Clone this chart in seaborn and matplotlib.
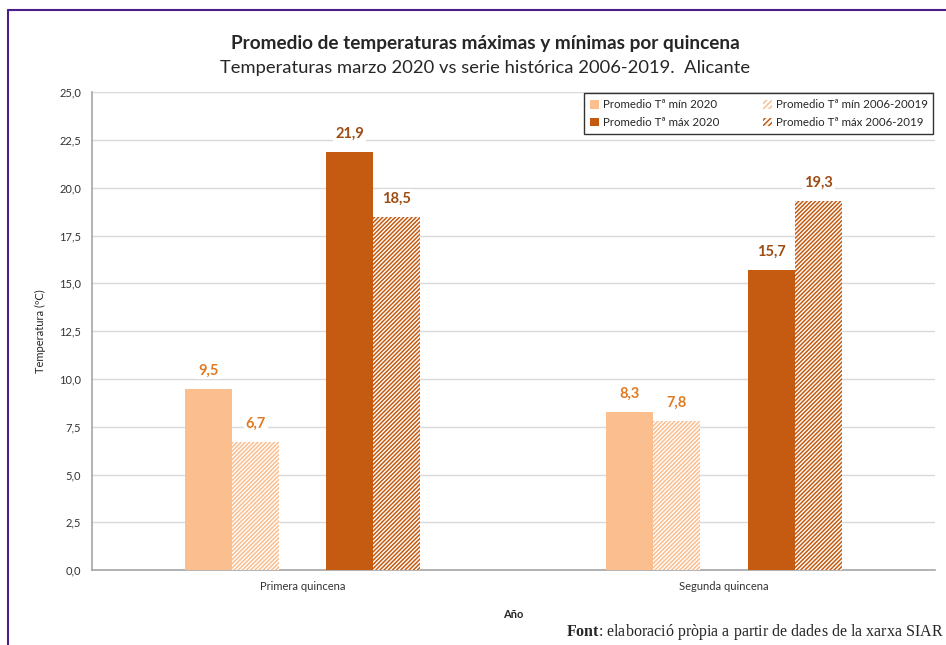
import numpy as np
import pandas as pd
import seaborn as sns
import matplotlib.pyplot as plt
from matplotlib.patches import Patch
from matplotlib.lines import Line2D

# datos
quincenas = ["Primera quincena", "Segunda quincena"]
series = ["Promedio Tª mín 2020", "Promedio Tª mín 2006-20019",
          "Promedio Tª máx 2020", "Promedio Tª máx 2006-2019"]
min_2020 = [9.5, 8.3]
min_hist = [6.7, 7.8]
max_2020 = [21.9, 15.7]
max_hist = [18.5, 19.3]

claro = "#FBBE8E"
oscuro = "#C55A11"
col_lab_claro = "#E07A22"
col_lab_oscuro = "#9E4B12"

rows = []
for s, vals in zip(series, [min_2020, min_hist, max_2020, max_hist]):
    for q, v in zip(quincenas, vals):
        rows.append({"quincena": q, "serie": s, "valor": v})
df = pd.DataFrame(rows)

sns.set_style("white")
plt.rcParams["font.family"] = ["Lato", "DejaVu Sans"]
plt.rcParams["hatch.linewidth"] = 1.1
plt.rcParams["mathtext.fontset"] = "custom"
plt.rcParams["mathtext.bf"] = "Liberation Serif:bold"
plt.rcParams["mathtext.rm"] = "Liberation Serif"

fig = plt.figure(figsize=(9.46, 6.45), dpi=100)
ax = fig.add_axes([0.0973, 0.116, 0.8907, 0.741])

# hueco vacío entre mínimas y máximas
orden = [series[0], series[1], " ", series[2], series[3]]
paleta = {series[0]: claro, series[1]: claro, " ": "white",
          series[2]: oscuro, series[3]: oscuro}
sns.barplot(data=df, x="quincena", y="valor", hue="serie", hue_order=orden,
            palette=paleta, width=0.558, gap=0, legend=False, ax=ax,
            saturation=1, zorder=3)

conts = [c for c in ax.containers
         if len(c.datavalues) > 0 and not np.all(np.isnan(c.datavalues))]
cols_lab = [col_lab_claro, col_lab_claro, col_lab_oscuro, col_lab_oscuro]
for i, cont in enumerate(conts):
    color = claro if i < 2 else oscuro
    for bar in cont:
        bar.set_linewidth(0)
        if i in (1, 3):
            bar.set_facecolor("white")
            bar.set_edgecolor(color)
            bar.set_hatch("////////")
    labs = [f"{v:.1f}".replace(".", ",") for v in cont.datavalues]
    ax.bar_label(cont, labels=labs, padding=8, fontsize=10.5, fontweight="bold",
                 color=cols_lab[i],
                 bbox=dict(facecolor="white", edgecolor="none", pad=1.5),
                 zorder=5)

ax.set_ylim(0, 25)
ax.set_xlim(-0.5, 1.5)
ax.set_yticks([i * 2.5 for i in range(11)])
ax.set_yticklabels([f"{i * 2.5:.1f}".replace(".", ",") for i in range(11)],
                   fontsize=8, color="#333333")
ax.set_xticks([0, 1])
ax.set_xticklabels(quincenas, fontsize=8, color="#333333")
ax.set_xticks([-0.5, 0.5, 1.5], minor=True)
ax.tick_params(axis="x", which="major", length=0, pad=8)
ax.tick_params(axis="x", which="minor", length=5, color="#A6A6A6", direction="out")
ax.tick_params(axis="y", length=5, color="#A6A6A6", direction="out", pad=3)
ax.yaxis.grid(True, color="#D9D9D9", linewidth=1, zorder=0)
ax.set_axisbelow(True)
for lado in ["top", "right"]:
    ax.spines[lado].set_visible(False)
for lado in ["left", "bottom"]:
    ax.spines[lado].set_color("#A6A6A6")
    ax.spines[lado].set_linewidth(1.2)

ax.set_xlabel("Año", fontsize=8, fontweight="bold", labelpad=12)
ax.set_ylabel("Temperatura (ºC)", fontsize=8, labelpad=9)

handles = [
    Patch(facecolor=claro, edgecolor="none"),
    Patch(facecolor=oscuro, edgecolor="none"),
    Patch(facecolor="white", edgecolor=claro, hatch="//////", linewidth=0),
    Patch(facecolor="white", edgecolor=oscuro, hatch="//////", linewidth=0),
]
leg_labels = [series[0], series[2], series[1], series[3]]
leg = ax.legend(handles, leg_labels, ncol=2, loc="upper right",
                bbox_to_anchor=(1.0, 1.0), borderaxespad=0.1, fontsize=8.3,
                handlelength=0.8, handleheight=0.8, handletextpad=0.3,
                columnspacing=3.8, frameon=True, fancybox=False,
                borderpad=0.5, labelspacing=0.6)
leg.get_frame().set_edgecolor("black")
leg.get_frame().set_linewidth(1)

fig.text(0.513, 0.933, "Promedio de temperaturas máximas y mínimas por quincena",
         ha="center", va="center", fontsize=13.7, fontweight="bold")
fig.text(0.513, 0.894, "Temperaturas marzo 2020 vs serie histórica 2006-2019.  Alicante",
         ha="center", va="center", fontsize=13.2)

fig.text(0.998, 0.004, r"$\mathbf{Font}$: elaboració pròpia a partir de dades de la xarxa SIAR",
         ha="right", va="bottom", fontsize=11.5, family=["Liberation Serif"])

# marco morado
fig.add_artist(Line2D([8 / 946, 1.0], [1 - 10 / 645, 1 - 10 / 645],
                      color="#4B1F8A", linewidth=1.5, transform=fig.transFigure))
fig.add_artist(Line2D([8 / 946, 8 / 946], [0, 1 - 10 / 645],
                      color="#4B1F8A", linewidth=1.5, transform=fig.transFigure))

fig.savefig("out.png", dpi=100)
